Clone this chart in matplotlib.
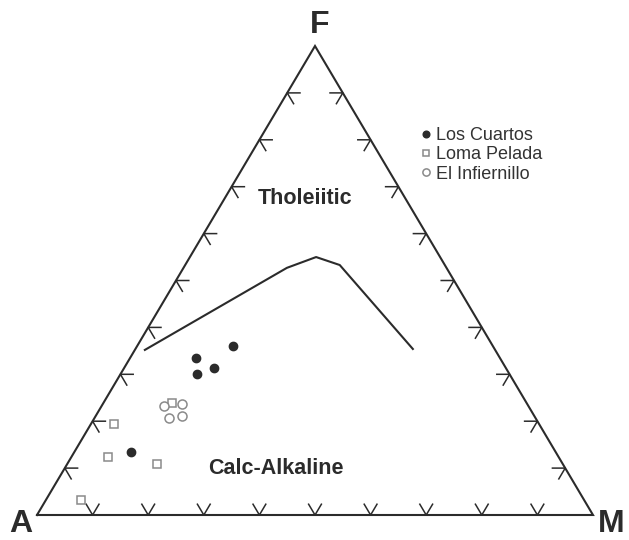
"""AFM ternary diagram (Irvine & Baragar tholeiitic / calc-alkaline boundary)."""

import matplotlib.pyplot as plt
import numpy as np

plt.rcParams["font.family"] = ["Liberation Sans", "DejaVu Sans"]

# sample compositions, percent (A, F, M)
los_cuartos_A = [46.7, 54.7, 52.5, 56.2, 76.4]
los_cuartos_F = [36.0, 33.5, 31.3, 30.1, 13.4]
los_cuartos_M = [17.3, 11.9, 16.2, 13.7, 10.2]

loma_pelada_A = [63.8, 76.4, 81.0, 73.0, 90.5]
loma_pelada_F = [23.9, 19.4, 12.4, 10.9, 3.2]
loma_pelada_M = [12.3, 4.2, 6.6, 16.1, 6.3]

infiernillo_A = [65.5, 62.1, 65.9, 63.4]
infiernillo_F = [23.2, 23.7, 20.7, 21.1]
infiernillo_M = [11.2, 14.2, 13.4, 15.5]

# boundary curve
boundary_A = [63.0, 28.7, 22.3, 18.9, 14.7]
boundary_F = [35.2, 52.7, 55.0, 53.3, 35.4]
boundary_M = [1.8, 18.6, 22.7, 27.8, 49.9]

tick_fracs = [10, 20, 30, 40, 50, 60, 70, 80, 90]

# triangle corners in figure pixels (A, M, F)
AX, AY = 37.0, 515.0
MX = 593.0
FY = 46.0
W, H = 629, 540

INK = "#2b2b2b"
GREY = "#8a8a8a"


def to_xy(a, f, m):
    a, f, m = (np.asarray(v, dtype=float) for v in (a, f, m))
    s = a + f + m
    f, m = f / s, m / s
    x = AX + (MX - AX) * (m + f / 2)
    y = AY - (AY - FY) * f
    return x, y


fig = plt.figure(figsize=(W / 100, H / 100), dpi=100)
ax = fig.add_axes([0, 0, 1, 1])
ax.set_xlim(0, W)
ax.set_ylim(H, 0)
ax.axis("off")

# frame
fx, fy = to_xy([100, 0, 0, 100], [0, 0, 100, 0], [0, 100, 0, 0])
ax.plot(fx, fy, color=INK, lw=1.5, solid_joinstyle="miter")

# arrow ticks
d = 2.3
for t in tick_fracs:
    # A-F edge
    a, f = 100 - t, t
    xs, ys = to_xy([a - d, a, a], [f, f, f - d], [d, 0, d])
    ax.plot(xs, ys, color=INK, lw=1.1)
    # F-M edge
    f, m = 100 - t, t
    xs, ys = to_xy([d, 0, d], [f, f, f - d], [m - d, m, m])
    ax.plot(xs, ys, color=INK, lw=1.1)
    # A-M edge
    a, m = 100 - t, t
    xs, ys = to_xy([a, a, a - d], [d, 0, d], [m - d, m, m])
    ax.plot(xs, ys, color=INK, lw=1.1)

# boundary
bx, by = to_xy(boundary_A, boundary_F, boundary_M)
ax.plot(bx, by, color=INK, lw=1.5)

# samples
x, y = to_xy(los_cuartos_A, los_cuartos_F, los_cuartos_M)
ax.plot(x, y, "o", ms=6, color=INK, mec=INK, label="Los Cuartos")
x, y = to_xy(loma_pelada_A, loma_pelada_F, loma_pelada_M)
ax.plot(x, y, "s", ms=6, mfc="white", mec=GREY, mew=1.1, label="Loma Pelada")
x, y = to_xy(infiernillo_A, infiernillo_F, infiernillo_M)
ax.plot(x, y, "o", ms=6.5, mfc="white", mec=GREY, mew=1.1, label="El Infiernillo")

leg = ax.legend(loc="upper left", bbox_to_anchor=(421 / W, 1 - 127 / H),
                frameon=False, fontsize=13, handlelength=0.5,
                handletextpad=0.35, labelspacing=0.13, borderpad=0,
                borderaxespad=0, markerscale=0.8)
for txt in leg.get_texts():
    txt.set_color("#333333")

# labels
ax.text(320, 25, "F", fontsize=23, fontweight="bold", color=INK,
        ha="center", va="center")
ax.text(21, 532, "A", fontsize=23, fontweight="bold", color=INK,
        ha="center", va="baseline")
ax.text(611, 532, "M", fontsize=23, fontweight="bold", color=INK,
        ha="center", va="baseline")
ax.text(305, 199, "Tholeiitic", fontsize=15.5, fontweight="bold", color=INK,
        ha="center", va="center")
ax.text(276, 469, "Calc-Alkaline", fontsize=15.5, fontweight="bold", color=INK,
        ha="center", va="center")

fig.savefig("out.png", dpi=100)
